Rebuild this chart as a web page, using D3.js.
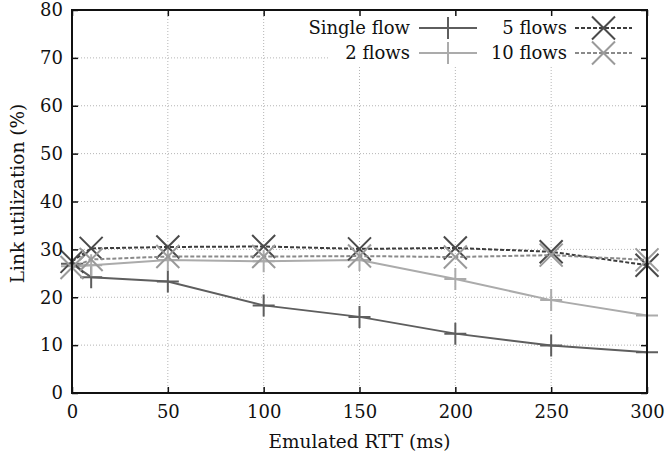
<!DOCTYPE html>
<html>
<head>
<meta charset="utf-8">
<script src="https://cdn.jsdelivr.net/npm/d3@7"></script>
<style>
	body { margin: 0; background: #fff; }
	svg text { font-family: 'DejaVu Serif', 'Liberation Serif', serif; fill: #111; }
</style>
</head>
<body>
<div id="chart"></div>
<script>
const rtt = [0, 10, 50, 100, 150, 200, 250, 300]
const singleFlow = [27, 24.2, 23.3, 18.3, 15.9, 12.4, 9.9, 8.5]
const twoFlows = [26.5, 26.7, 27.8, 27.5, 27.8, 23.8, 19.4, 16.2]
const fiveFlows = [27.5, 30.2, 30.5, 30.6, 30.1, 30.3, 29.5, 26.7]
const tenFlows = [26.2, 27.9, 28.5, 28.5, 28.6, 28.4, 28.8, 27.8]
const xTicks = [0, 50, 100, 150, 200, 250, 300]
const yTicks = [0, 10, 20, 30, 40, 50, 60, 70, 80]

const width = 665, height = 459
const margins = { top: 10, left: 72, bottom: 66, right: 18 }
const innerWidth = width - margins.left - margins.right
const innerHeight = height - margins.top - margins.bottom

const series = [
	{ name: 'Single flow', values: singleFlow, color: '#5e5e5e', mark: '#5e5e5e', dash: null, shape: 'plus', col: 0, row: 0 },
	{ name: '2 flows', values: twoFlows, color: '#ababab', mark: '#ababab', dash: null, shape: 'plus', col: 0, row: 1 },
	{ name: '5 flows', values: fiveFlows, color: '#3c3c3c', mark: '#4a4a4a', dash: '4,2', shape: 'cross', col: 1, row: 0 },
	{ name: '10 flows', values: tenFlows, color: '#8a8a8a', mark: '#9a9a9a', dash: '4,2', shape: 'cross', col: 1, row: 1 }
]

const x = d3.scaleLinear().domain([0, 300]).range([0, innerWidth])
const y = d3.scaleLinear().domain([0, 80]).range([innerHeight, 0])

const svg = d3.select('#chart').append('svg')
	.attr('width', width)
	.attr('height', height)

const g = svg.append('g')
	.attr('transform', `translate(${margins.left}, ${margins.top})`)

// dotted grid
g.append('g').selectAll('line').data(xTicks.slice(1, -1)).join('line')
	.attr('x1', (d) => x(d)).attr('x2', (d) => x(d))
	.attr('y1', 0).attr('y2', innerHeight)
	.attr('stroke', '#b5b5b5').attr('stroke-dasharray', '1,2')
g.append('g').selectAll('line').data(yTicks.slice(1, -1)).join('line')
	.attr('y1', (d) => y(d)).attr('y2', (d) => y(d))
	.attr('x1', 0).attr('x2', innerWidth)
	.attr('stroke', '#b5b5b5').attr('stroke-dasharray', '1,2')

// legend background hides the grid
const legend = svg.append('g')
legend.append('rect')
	.attr('x', 330).attr('y', margins.top + 1)
	.attr('width', width - margins.right - 331).attr('height', 55)
	.attr('fill', '#fff')

const drawMarker = (sel, shape, cx, cy, color) => {
	const r = shape === 'plus' ? 11 : 11.5
	const path = shape === 'plus'
		? `M${cx - r},${cy}H${cx + r}M${cx},${cy - r}V${cy + r}`
		: `M${cx - r},${cy - r}L${cx + r},${cy + r}M${cx - r},${cy + r}L${cx + r},${cy - r}`
	sel.append('path').attr('d', path)
		.attr('stroke', color).attr('stroke-width', 2).attr('fill', 'none')
}

const line = d3.line().x((d) => x(d[0])).y((d) => y(d[1]))

series.forEach((s) => {
	const pts = rtt.map((r, i) => [r, s.values[i]])
	g.append('path').datum(pts)
		.attr('d', line)
		.attr('fill', 'none')
		.attr('stroke', s.color)
		.attr('stroke-width', 2)
		.attr('stroke-dasharray', s.dash)
	const gm = g.append('g')
	pts.forEach((p) => drawMarker(gm, s.shape, x(p[0]), y(p[1]), s.mark))
})

// legend entries
const legCols = [{ textEnd: 410, lineStart: 419, lineEnd: 477 }, { textEnd: 567, lineStart: 575, lineEnd: 632 }]
const legRows = [28, 53]
series.forEach((s) => {
	const c = legCols[s.col], cy = legRows[s.row]
	legend.append('text')
		.attr('x', c.textEnd).attr('y', cy)
		.attr('dy', '0.35em')
		.attr('text-anchor', 'end')
		.style('font-size', '18px')
		.text(s.name)
	legend.append('line')
		.attr('x1', c.lineStart).attr('x2', c.lineEnd)
		.attr('y1', cy).attr('y2', cy)
		.attr('stroke', s.color).attr('stroke-width', 2)
		.attr('stroke-dasharray', s.dash)
	drawMarker(legend, s.shape, (c.lineStart + c.lineEnd) / 2, cy, s.mark)
})

// axes with inward ticks on all four sides
const axisStyle = (sel) => {
	sel.select('.domain').remove()
	sel.selectAll('.tick line').attr('stroke', '#111').attr('stroke-width', 1.5)
	sel.selectAll('.tick text').style('font-size', '18px').attr('fill', '#111')
}
const noLabels = (sel) => sel.selectAll('.tick text').remove()

svg.append('g')
	.attr('transform', `translate(${margins.left}, ${margins.top + innerHeight})`)
	.call(d3.axisBottom(x).tickValues(xTicks).tickSize(-6).tickPadding(12))
	.call(axisStyle)
svg.append('g')
	.attr('transform', `translate(${margins.left}, ${margins.top})`)
	.call(d3.axisTop(x).tickValues(xTicks).tickSize(-6))
	.call(axisStyle)
	.call(noLabels)
svg.append('g')
	.attr('transform', `translate(${margins.left}, ${margins.top})`)
	.call(d3.axisLeft(y).tickValues(yTicks).tickSize(-6).tickPadding(9))
	.call(axisStyle)
svg.append('g')
	.attr('transform', `translate(${margins.left + innerWidth}, ${margins.top})`)
	.call(d3.axisRight(y).tickValues(yTicks).tickSize(-6))
	.call(axisStyle)
	.call(noLabels)

svg.append('rect')
	.attr('x', margins.left).attr('y', margins.top)
	.attr('width', innerWidth).attr('height', innerHeight)
	.attr('fill', 'none').attr('stroke', '#111').attr('stroke-width', 2)

svg.append('text')
	.attr('x', margins.left + innerWidth / 2)
	.attr('y', 448)
	.attr('text-anchor', 'middle')
	.style('font-size', '18.5px')
	.text('Emulated RTT (ms)')

svg.append('text')
	.attr('transform', `translate(24, ${margins.top + innerHeight / 2 - 8}) rotate(-90)`)
	.attr('text-anchor', 'middle')
	.style('font-size', '18.5px')
	.text('Link utilization (%)')
</script>
</body>
</html>
